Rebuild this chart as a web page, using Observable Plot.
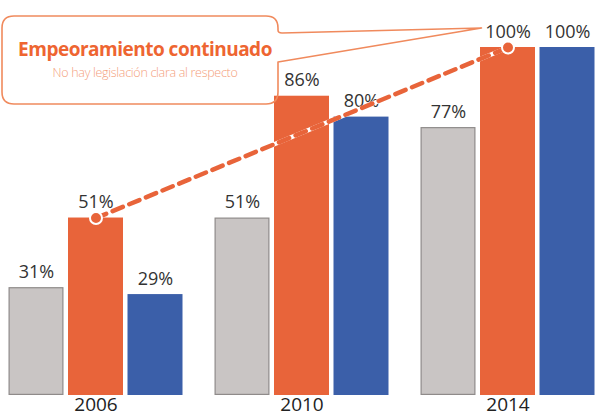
<!DOCTYPE html>
<html>
<head>
<meta charset="utf-8">
<script src="https://cdn.jsdelivr.net/npm/d3@7"></script>
<script src="https://cdn.jsdelivr.net/npm/@observablehq/plot@0.6"></script>
<style>
  html, body { margin: 0; padding: 0; background: #fff; }
  svg { display: block; }
</style>
</head>
<body>
<div id="chart"></div>
<script>
// ---- data ----
const years = ["2006", "2010", "2014"];
const grayValues = [31, 51, 77];
const orangeValues = [51, 86, 100];
const blueValues = [29, 80, 100];
const trendYears = ["2006", "2014"];
const trendValues = [51, 100];
const calloutTitle = "Empeoramiento continuado";
const calloutSubtitle = "No hay legislación clara al respecto";

// ---- build tables ----
const gray = years.map((year, i) => ({year, value: grayValues[i]}));
const orange = years.map((year, i) => ({year, value: orangeValues[i]}));
const blue = years.map((year, i) => ({year, value: blueValues[i]}));
const trend = trendYears.map((year, i) => ({year, value: trendValues[i]}));

const C_GRAY = "#c9c5c4", C_GRAY_S = "#8f8b8a";
const C_ORANGE = "#e8643a";
const C_BLUE = "#3b5fa9";
const STEP = 59.5;
const FONT = "'Open Sans', sans-serif";

const labelOpts = (dx) => ({
  x: "year", y: "value", text: d => d.value + "%", dx, dy: -10,
  lineAnchor: "bottom", fontSize: 18, fontFamily: FONT, fill: "#333"
});

const chart = Plot.plot({
  width: 595,
  height: 419,
  marginLeft: 67.5,
  marginRight: 59,
  marginTop: 47,
  marginBottom: 24,
  x: {domain: years, paddingInner: 0.734, paddingOuter: 0, axis: null},
  y: {domain: [0, 100], axis: null},
  marks: [
    Plot.barY(gray, {x: "year", y: "value", dx: -STEP, fill: C_GRAY, stroke: C_GRAY_S, strokeWidth: 1.2, inset: 0.6}),
    Plot.barY(orange, {x: "year", y: "value", fill: C_ORANGE}),
    Plot.barY(blue, {x: "year", y: "value", dx: STEP, fill: C_BLUE}),
    Plot.text(gray, labelOpts(-STEP)),
    Plot.text(orange, labelOpts(0)),
    Plot.text(blue, labelOpts(STEP)),
    Plot.text(years, {x: d => d, frameAnchor: "bottom", lineAnchor: "top", dy: 2, text: d => d,
      fontSize: 19, fontFamily: FONT, fill: "#222"}),
    Plot.line(trend, {x: "year", y: "value", stroke: "white", strokeWidth: 4.5}),
    Plot.line(trend, {x: "year", y: "value", stroke: C_ORANGE, strokeWidth: 4.5, strokeDasharray: "11,7"}),
    Plot.dot(trend, {x: "year", y: "value", r: 6, fill: C_ORANGE, stroke: "white", strokeWidth: 2})
  ]
});

document.getElementById("chart").appendChild(chart);

// ---- callout annotation (decoration), tip tied to the 2014 label via scales ----
const xs = chart.scale("x"), ys = chart.scale("y");
const tipX = xs.apply("2014") + xs.bandwidth / 2 - 26;
const tipY = ys.apply(100) - 19;

const svg = d3.select(chart);
const g = svg.append("g");
const L = 2, T = 16, R = 278, B = 104, rr = 12;
const p = d3.path();
p.moveTo(L + rr, T);
p.lineTo(R - rr, T);
p.quadraticCurveTo(R, T, R, T + rr);
p.lineTo(R, 30);
p.quadraticCurveTo(R, 33, R + 4, 33);
p.lineTo(tipX, tipY);
p.lineTo(R, 62);
p.lineTo(R, B - rr);
p.quadraticCurveTo(R, B, R - rr, B);
p.lineTo(L + rr, B);
p.quadraticCurveTo(L, B, L, B - rr);
p.lineTo(L, T + rr);
p.quadraticCurveTo(L, T, L + rr, T);
p.closePath();
g.append("path").attr("d", p.toString())
  .attr("fill", "none").attr("stroke", "#f08a5d").attr("stroke-width", 1.6)
  .attr("stroke-linejoin", "round");

g.append("text").attr("x", 145).attr("y", 56).attr("text-anchor", "middle")
  .attr("font-family", FONT).attr("font-weight", "bold").attr("font-size", 19)
  .attr("letter-spacing", -0.5).attr("fill", "#ee6531").text(calloutTitle);
g.append("text").attr("x", 145).attr("y", 77).attr("text-anchor", "middle")
  .attr("font-family", FONT).attr("font-weight", 300).attr("font-size", 12.5)
  .attr("letter-spacing", -0.3).attr("fill", "#f4a07c").text(calloutSubtitle);
</script>
</body>
</html>
